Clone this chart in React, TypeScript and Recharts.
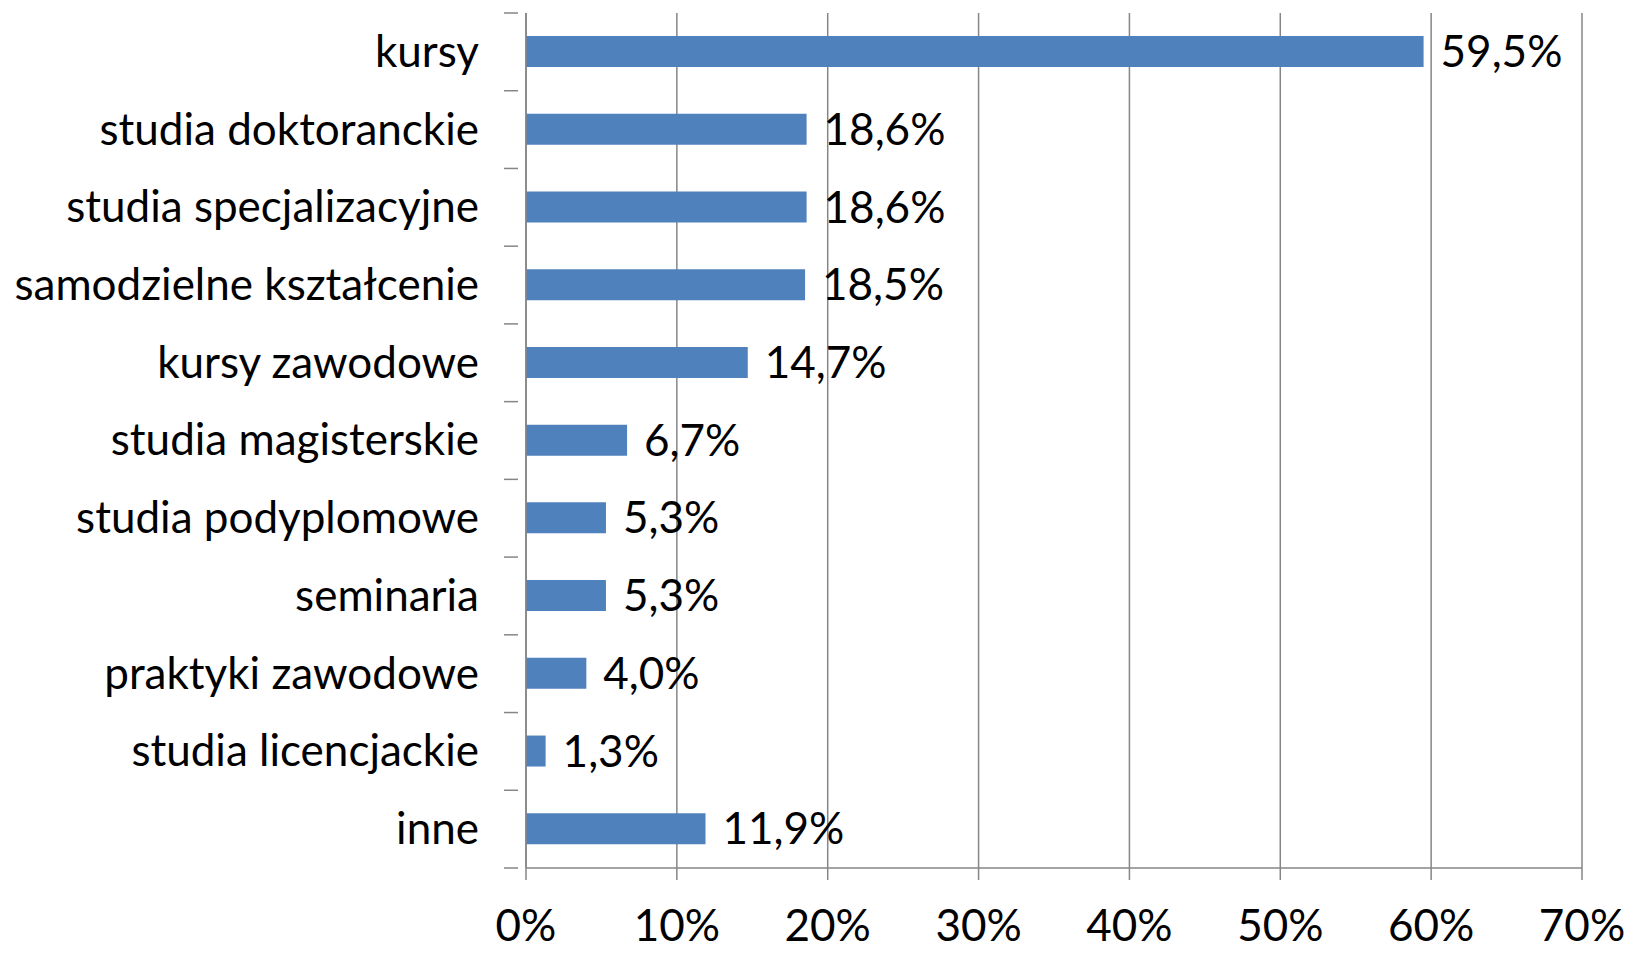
import React from 'react';
import { BarChart, Bar, XAxis, YAxis, CartesianGrid, LabelList } from 'recharts';

const categories = [
  'kursy',
  'studia doktoranckie',
  'studia specjalizacyjne',
  'samodzielne kształcenie',
  'kursy zawodowe',
  'studia magisterskie',
  'studia podyplomowe',
  'seminaria',
  'praktyki zawodowe',
  'studia licencjackie',
  'inne',
];
const shares = [59.5, 18.6, 18.6, 18.5, 14.7, 6.7, 5.3, 5.3, 4.0, 1.3, 11.9];
const xTicks = [0, 10, 20, 30, 40, 50, 60, 70];

const data = categories.map((name, i) => ({ name, value: shares[i] }));

const W = 1625;
const H = 953;
const X_AXIS_H = 85;
const M = { top: 13, right: 43, bottom: 0, left: 0 };
const AXIS_W = 526;
const BAND = (H - M.top - X_AXIS_H) / categories.length;
const FONT = 'Lato, "Open Sans", sans-serif';
const FS = 44;
const GRAY = '#868686';

const pct = (v: number) => `${v.toFixed(1).replace('.', ',')}%`;

// etykiety kategorii + kreski między kategoriami (jak w Excelu)
const CategoryTick = (props: any) => {
  const { x, y, payload, index } = props;
  const last = index === categories.length - 1;
  return (
    <g>
      <line x1={x - 14} x2={x} y1={y - BAND / 2} y2={y - BAND / 2} stroke={GRAY} strokeWidth={1.5} />
      {last && <line x1={x - 14} x2={x} y1={y + BAND / 2} y2={y + BAND / 2} stroke={GRAY} strokeWidth={1.5} />}
      <text x={x - 39} y={y} dy="0.34em" textAnchor="end" fill="#000" fontSize={FS} fontFamily={FONT}>
        {payload.value}
      </text>
    </g>
  );
};

export default function App() {
  return (
    <div style={{ position: 'absolute', left: 0, top: 0, width: W, height: H, background: '#fff' }}>
      <BarChart width={W} height={H} data={data} layout="vertical" margin={M}>
        <CartesianGrid horizontal={false} stroke={GRAY} strokeWidth={1.5} />
        <XAxis
          type="number"
          domain={[0, 70]}
          ticks={xTicks}
          interval={0}
          height={X_AXIS_H}
          tickFormatter={(v: number) => `${v}%`}
          stroke={GRAY}
          strokeWidth={1.5}
          tickSize={12}
          tickMargin={30}
          tick={{ fill: '#000', fontSize: FS, fontFamily: FONT }}
        />
        <YAxis
          type="category"
          dataKey="name"
          width={AXIS_W}
          stroke={GRAY}
          strokeWidth={1.5}
          tickLine={false}
          interval={0}
          tick={<CategoryTick />}
        />
        <Bar dataKey="value" fill="#4F81BD" barSize={31} isAnimationActive={false}>
          <LabelList
            dataKey="value"
            position="right"
            offset={17}
            formatter={(v: any) => pct(Number(v))}
            fill="#000"
            fontSize={FS}
            fontFamily={FONT}
          />
        </Bar>
      </BarChart>
    </div>
  );
}
